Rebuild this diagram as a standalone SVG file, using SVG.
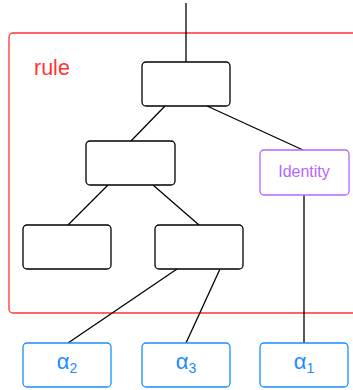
<svg xmlns="http://www.w3.org/2000/svg" width="353" height="390" viewBox="0 0 353 390">
<style>
.n{fill:#fff;stroke:#000;stroke-width:1.3}
.b{fill:#fff;stroke:#1a8cff;stroke-width:1.3}
.p{fill:#fff;stroke:#b366ff;stroke-width:1.3}
.e{stroke:#000;stroke-width:1.3;fill:none}
.a{font-family:"Liberation Sans",Arial,sans-serif;font-size:22px;fill:#1a8cff;text-anchor:middle}
</style>
<g id="rule"><rect x="9" y="33" width="360" height="280" rx="4" fill="none" stroke="#ff3333" stroke-width="1.3"/>
<text x="34" y="75" font-family="Liberation Sans,Arial,sans-serif" font-size="21.5" fill="#ff3333">rule</text></g>
<g id="connectors">
<line class="e" x1="186" y1="3" x2="186" y2="62"/>
<line class="e" x1="165" y1="106" x2="131" y2="141"/>
<line class="e" x1="207" y1="106" x2="303" y2="150"/>
<line class="e" x1="108" y1="185" x2="68" y2="225"/>
<line class="e" x1="153" y1="185" x2="199" y2="225"/>
<line class="e" x1="177" y1="269" x2="68" y2="343"/>
<line class="e" x1="220" y1="269" x2="186" y2="343"/>
<line class="e" x1="304" y1="195" x2="304" y2="343"/>
</g>
<g id="root"><rect class="n" x="142" y="62" width="88" height="44" rx="4"/></g>
<g id="mid"><rect class="n" x="86" y="141" width="89" height="44" rx="4"/></g>
<g id="identity"><rect class="p" x="260" y="150" width="89" height="45" rx="4"/>
<text x="304" y="177" font-family="Liberation Sans,Arial,sans-serif" font-size="16" fill="#b366ff" text-anchor="middle">Identity</text></g>
<g id="bl"><rect class="n" x="23" y="225" width="88" height="44" rx="4"/></g>
<g id="br"><rect class="n" x="155" y="225" width="88" height="44" rx="4"/></g>
<g id="a2"><rect class="b" x="23" y="343" width="88" height="44" rx="4"/>
<text class="a" x="67" y="369">α<tspan font-size="14" dy="4">2</tspan></text></g>
<g id="a3"><rect class="b" x="142" y="343" width="88" height="44" rx="4"/>
<text class="a" x="186" y="369">α<tspan font-size="14" dy="4">3</tspan></text></g>
<g id="a1"><rect class="b" x="260" y="343" width="88" height="44" rx="4"/>
<text class="a" x="304" y="369">α<tspan font-size="14" dy="4">1</tspan></text></g>
</svg>
